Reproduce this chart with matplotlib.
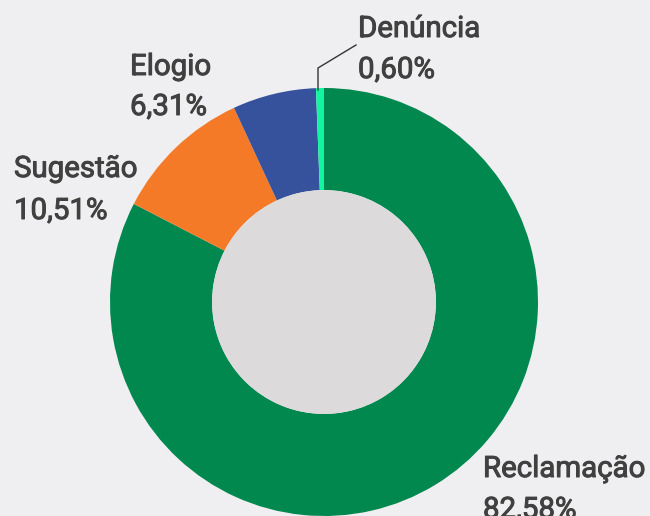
import matplotlib
matplotlib.use("Agg")
import matplotlib.pyplot as plt
import matplotlib.patheffects as pe
from matplotlib.patches import Circle

# Datos del gráfico
categorias = ["Reclamação", "Sugestão", "Elogio", "Denúncia"]
percentuais = [82.58, 10.51, 6.31, 0.60]
rotulos_pct = ["82,58%", "10,51%", "6,31%", "0,60%"]
cores = ["#00884f", "#f47a28", "#36529c", "#14f5a2"]

FUNDO = "#efeff1"
MIOLO = "#dcdadb"
TEXTO = "#404040"

W, H = 650, 516
fig = plt.figure(figsize=(W / 100, H / 100), dpi=100, facecolor=FUNDO)
ax = fig.add_axes([0, 0, 1, 1])
ax.set_facecolor(FUNDO)

cx, cy, R = 324, 302, 214
r_in = 0.523

ax.pie(percentuais, colors=cores, startangle=90, counterclock=False,
       radius=1.0, wedgeprops=dict(width=1.0 - r_in, linewidth=0))
ax.add_patch(Circle((0, 0), r_in, facecolor=MIOLO, edgecolor="none"))

ax.set_xlim(-cx / R, (W - cx) / R)
ax.set_ylim(-(H - cy) / R, cy / R)
ax.set_aspect("auto")
ax.axis("off")

# rótulos: (x esquerda, baseline nome, baseline percentual) em pixels
pos_rotulos = {
    "Reclamação": (483, 477, 518),
    "Sugestão":   (14, 177, 219),
    "Elogio":     (130, 75, 115),
    "Denúncia":   (358, 37, 78),
}
# Roboto "medium" simulado: regular + contorno fino
fonte = dict(family=["Roboto", "DejaVu Sans"], fontweight="normal",
             fontsize=21.2, color=TEXTO, va="baseline", ha="left",
             path_effects=[pe.withStroke(linewidth=0.7, foreground=TEXTO)])
for cat, pct in zip(categorias, rotulos_pct):
    x, y1, y2 = pos_rotulos[cat]
    fig.text(x / W, 1 - y1 / H, cat, **fonte)
    fig.text(x / W, 1 - y2 / H, pct, **fonte)

# linha guia da Denúncia
ax.plot([(318 - cx) / R, (318 - cx) / R, (356 - cx) / R],
        [(cy - 90) / R, (cy - 68) / R, (cy - 45) / R],
        color="#333333", linewidth=1.0, solid_joinstyle="miter")

fig.savefig("out.png", dpi=100, facecolor=FUNDO)
